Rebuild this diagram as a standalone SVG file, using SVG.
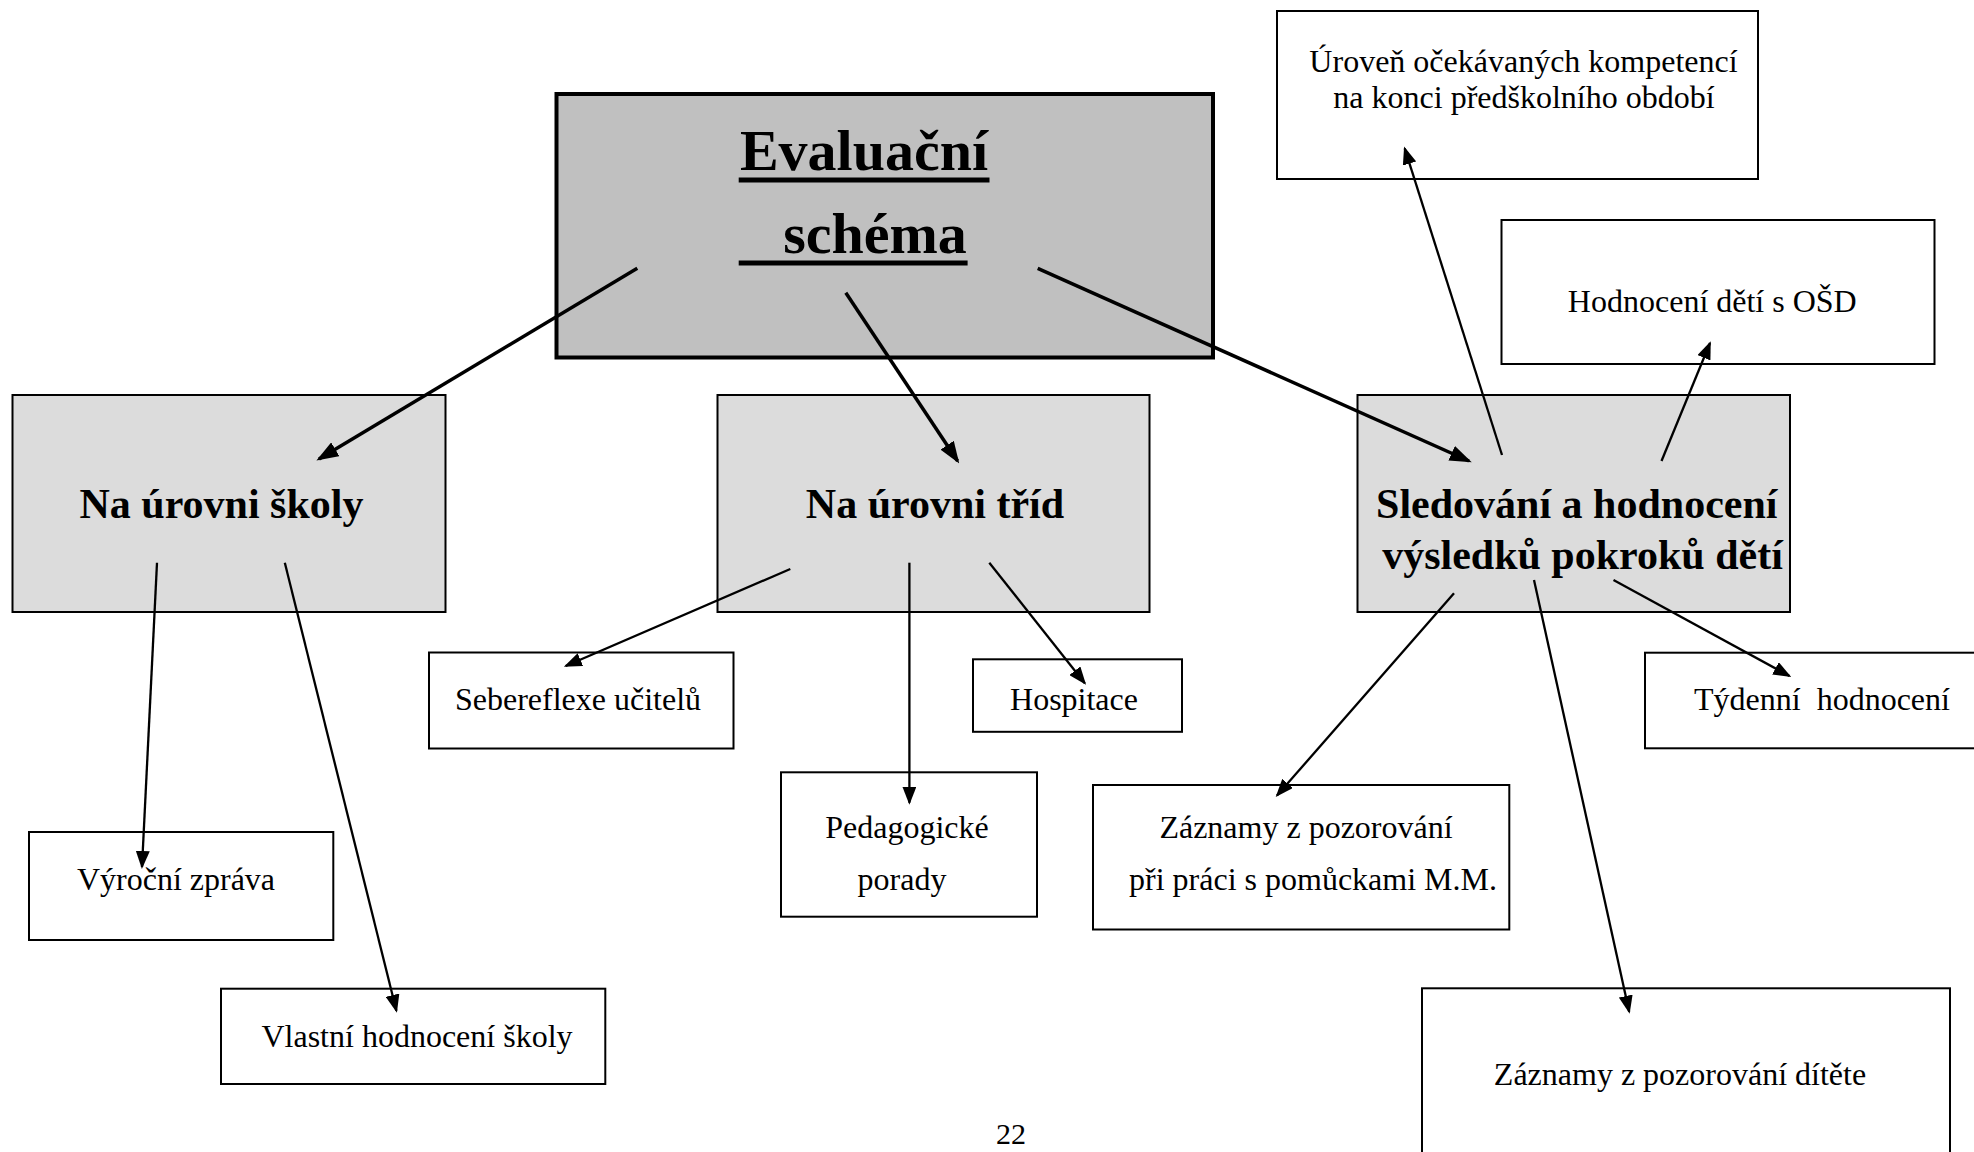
<svg xmlns="http://www.w3.org/2000/svg" width="1974" height="1152" viewBox="0 0 1974 1152">
<style>
.box{fill:#ffffff;stroke:#000;stroke-width:2}
.lvl{fill:#dcdcdc;stroke:#000;stroke-width:2}
.main{fill:#c0c0c0;stroke:#000;stroke-width:4}
.t{font-family:"Liberation Serif","Times New Roman",serif;font-size:32px;fill:#000;text-anchor:middle}
.b{font-family:"Liberation Serif","Times New Roman",serif;font-size:42px;font-weight:bold;fill:#000;text-anchor:middle}
.h{font-family:"Liberation Serif","Times New Roman",serif;font-size:58px;font-weight:bold;fill:#000;text-anchor:middle}
.thick{stroke:#000;stroke-width:3.5;fill:none;marker-end:url(#ahBig)}
.thin{stroke:#000;stroke-width:2.3;fill:none;marker-end:url(#ah)}
</style>
<defs>
<marker id="ah" markerUnits="userSpaceOnUse" viewBox="0 0 18 14" refX="16" refY="7" markerWidth="18" markerHeight="14" orient="auto">
<path d="M0,0 L18,7 L0,14 z" fill="#000"/>
</marker>
<marker id="ahBig" markerUnits="userSpaceOnUse" viewBox="0 0 22 16" refX="19" refY="8" markerWidth="22" markerHeight="16" orient="auto">
<path d="M0,0 L22,8 L0,16 z" fill="#000"/>
</marker>
</defs>
<rect width="1974" height="1152" fill="#fff"/>

<g id="main">
<rect class="main" x="556.5" y="94" width="656.5" height="263.5"/>
<text class="h" x="864" y="170">Evaluační</text>
<rect x="738.7" y="177.5" width="250.8" height="5" fill="#000"/>
<text class="h" x="875" y="253">schéma</text>
<rect x="738.7" y="260.5" width="228.9" height="5" fill="#000"/>
</g>

<g id="skola">
<rect class="lvl" x="12.5" y="395" width="433" height="217"/>
<text class="b" x="221.5" y="518">Na úrovni školy</text>
</g>

<g id="trid">
<rect class="lvl" x="717.5" y="395" width="432" height="217"/>
<text class="b" x="935" y="518">Na úrovni tříd</text>
</g>

<g id="sledovani">
<rect class="lvl" x="1357.5" y="395" width="432.5" height="217"/>
<text class="b" x="1576.8" y="518">Sledování a hodnocení</text>
<text class="b" x="1582.5" y="569">výsledků pokroků dětí</text>
</g>

<g id="uroven">
<rect class="box" x="1277" y="11" width="481" height="168"/>
<text class="t" x="1523.5" y="72">Úroveň očekávaných kompetencí</text>
<text class="t" x="1524" y="108">na konci předškolního období</text>
</g>

<g id="osd">
<rect class="box" x="1501.5" y="220" width="433" height="144"/>
<text class="t" x="1712.3" y="312">Hodnocení dětí s OŠD</text>
</g>

<g id="sebereflexe">
<rect class="box" x="429" y="652.5" width="304.5" height="96"/>
<text class="t" x="578" y="710">Sebereflexe učitelů</text>
</g>

<g id="hospitace">
<rect class="box" x="973" y="659.3" width="209" height="72.5"/>
<text class="t" x="1074" y="710">Hospitace</text>
</g>

<g id="tydenni">
<rect class="box" x="1645" y="652.7" width="340" height="95.6"/>
<text class="t" x="1694" y="710" style="text-anchor:start" xml:space="preserve">Týdenní  hodnocení</text>
</g>

<g id="vyrocni">
<rect class="box" x="29" y="832" width="304.3" height="108"/>
<text class="t" x="176" y="890">Výroční zpráva</text>
</g>

<g id="vlastni">
<rect class="box" x="221" y="988.7" width="384.3" height="95.3"/>
<text class="t" x="417" y="1047">Vlastní hodnocení školy</text>
</g>

<g id="porady">
<rect class="box" x="781" y="772.3" width="256" height="144.4"/>
<text class="t" x="907" y="838">Pedagogické</text>
<text class="t" x="902" y="890">porady</text>
</g>

<g id="zaznamy-mm">
<rect class="box" x="1093" y="785" width="416.3" height="144.5"/>
<text class="t" x="1306" y="838">Záznamy z pozorování</text>
<text class="t" x="1313" y="890">při práci s pomůckami M.M.</text>
</g>

<g id="zaznamy-ditete">
<rect class="box" x="1422" y="988.3" width="528" height="200"/>
<text class="t" x="1680" y="1085">Záznamy z pozorování dítěte</text>
</g>

<g id="connectors">
<line class="thick" x1="637.3" y1="268.3" x2="319" y2="459"/>
<line class="thick" x1="845.8" y1="292.7" x2="957.6" y2="461"/>
<line class="thick" x1="1037.7" y1="268.3" x2="1469" y2="461"/>
<line class="thin" x1="157" y1="562.7" x2="142" y2="867"/>
<line class="thin" x1="284.8" y1="562.7" x2="396.4" y2="1010.7"/>
<line class="thin" x1="790.3" y1="569" x2="565.7" y2="666"/>
<line class="thin" x1="909.4" y1="562.7" x2="909.4" y2="802.7"/>
<line class="thin" x1="989.3" y1="562.7" x2="1084.8" y2="683.3"/>
<line class="thin" x1="1502" y1="455" x2="1404.7" y2="148.3"/>
<line class="thin" x1="1661.5" y1="461" x2="1710" y2="343"/>
<line class="thin" x1="1454" y1="593.3" x2="1277" y2="795.5"/>
<line class="thin" x1="1534" y1="580" x2="1629.2" y2="1011.7"/>
<line class="thin" x1="1613.5" y1="580" x2="1789.5" y2="676"/>
</g>

<text class="t" x="1011" y="1144" style="font-size:30px">22</text>
</svg>
